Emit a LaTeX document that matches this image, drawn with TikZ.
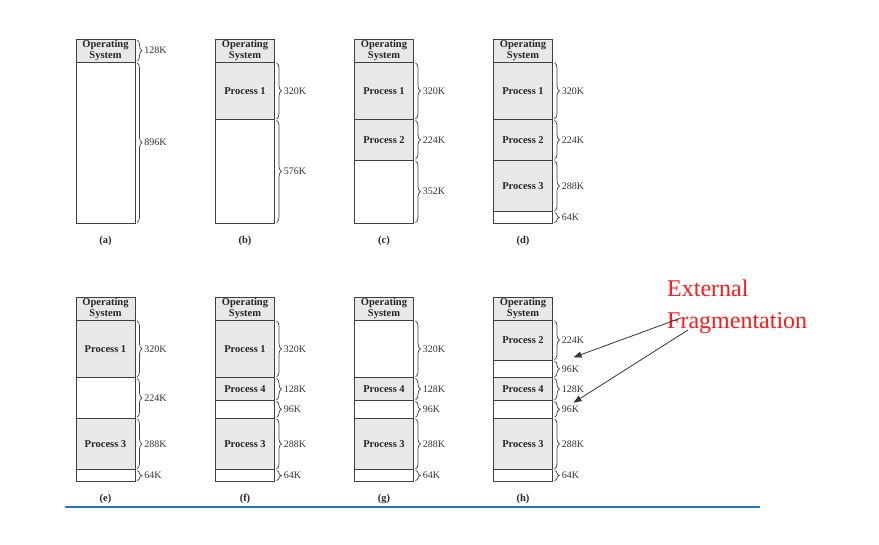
\documentclass[tikz,border=0pt]{standalone}
\usepackage{fontspec}
\setmainfont{Liberation Serif}
\usetikzlibrary{positioning,decorations.pathreplacing,arrows.meta}

\tikzset{
  seg/.style={draw=black!75, line width=0.9pt, minimum width=59pt, minimum height=#1*0.18pt,
    inner sep=0pt, outer sep=0pt, anchor=north, align=center, text=black!85,
    font=\bfseries\fontsize{10.5}{10.5}\selectfont},
  used/.style={seg=#1, fill=gray!18},
  free/.style={seg=#1, fill=white},
  sz/.style={decorate, decoration={brace, amplitude=5pt}, draw=black!75, line width=0.7pt},
  szlabel/.style={right=7pt, inner sep=0pt, text=black!80, font=\fontsize{10}{10}\selectfont},
  caption/.style={below=9pt of #1, font=\bfseries\fontsize{10.5}{11}\selectfont, text=black!85}
}
% brace on the right side of a segment
\newcommand\memsize[2]{\draw[sz] ([xshift=2pt,yshift=-0.8pt]#1.north east) -- ([xshift=2pt,yshift=0.8pt]#1.south east) node[midway,szlabel]{#2};}

\begin{document}
\begin{tikzpicture}[x=1pt,y=-1pt]
\useasboundingbox (0,0) rectangle (879,545);

% (a)
\node[used=128] (a0) at (105.5,39) {Operating\\System};
\node[free=896, below=0pt of a0] (a1) {};
\memsize{a0}{128K}
\memsize{a1}{896K}
\node[caption=a1] (ca) {(a)};

% (b)
\node[used=128] (b0) at (245,39) {Operating\\System};
\node[used=320, below=0pt of b0] (b1) {Process 1};
\node[free=576, below=0pt of b1] (b2) {};
\memsize{b1}{320K}
\memsize{b2}{576K}
\node[caption=b2] (cb) {(b)};

% (c)
\node[used=128] (c0) at (384,39) {Operating\\System};
\node[used=320, below=0pt of c0] (c1) {Process 1};
\node[used=224, below=0pt of c1] (c2) {Process 2};
\node[free=352, below=0pt of c2] (c3) {};
\memsize{c1}{320K}
\memsize{c2}{224K}
\memsize{c3}{352K}
\node[caption=c3] (cc) {(c)};

% (d)
\node[used=128] (d0) at (523,39) {Operating\\System};
\node[used=320, below=0pt of d0] (d1) {Process 1};
\node[used=224, below=0pt of d1] (d2) {Process 2};
\node[used=288, below=0pt of d2] (d3) {Process 3};
\node[free=64, below=0pt of d3] (d4) {};
\memsize{d1}{320K}
\memsize{d2}{224K}
\memsize{d3}{288K}
\memsize{d4}{64K}
\node[caption=d4] (cd) {(d)};

% (e)
\node[used=128] (e0) at (105.5,297) {Operating\\System};
\node[used=320, below=0pt of e0] (e1) {Process 1};
\node[free=224, below=0pt of e1] (e2) {};
\node[used=288, below=0pt of e2] (e3) {Process 3};
\node[free=64, below=0pt of e3] (e4) {};
\memsize{e1}{320K}
\memsize{e2}{224K}
\memsize{e3}{288K}
\memsize{e4}{64K}
\node[caption=e4] (ce) {(e)};

% (f)
\node[used=128] (f0) at (245,297) {Operating\\System};
\node[used=320, below=0pt of f0] (f1) {Process 1};
\node[used=128, below=0pt of f1] (f2) {Process 4};
\node[free=96, below=0pt of f2] (f3) {};
\node[used=288, below=0pt of f3] (f4) {Process 3};
\node[free=64, below=0pt of f4] (f5) {};
\memsize{f1}{320K}
\memsize{f2}{128K}
\memsize{f3}{96K}
\memsize{f4}{288K}
\memsize{f5}{64K}
\node[caption=f5] (cf) {(f)};

% (g)
\node[used=128] (g0) at (384,297) {Operating\\System};
\node[free=320, below=0pt of g0] (g1) {};
\node[used=128, below=0pt of g1] (g2) {Process 4};
\node[free=96, below=0pt of g2] (g3) {};
\node[used=288, below=0pt of g3] (g4) {Process 3};
\node[free=64, below=0pt of g4] (g5) {};
\memsize{g1}{320K}
\memsize{g2}{128K}
\memsize{g3}{96K}
\memsize{g4}{288K}
\memsize{g5}{64K}
\node[caption=g5] (cg) {(g)};

% (h)
\node[used=128] (h0) at (523,297) {Operating\\System};
\node[used=224, below=0pt of h0] (h1) {Process 2};
\node[free=96, below=0pt of h1] (h2) {};
\node[used=128, below=0pt of h2] (h3) {Process 4};
\node[free=96, below=0pt of h3] (h4) {};
\node[used=288, below=0pt of h4] (h5) {Process 3};
\node[free=64, below=0pt of h5] (h6) {};
\memsize{h1}{224K}
\memsize{h2}{96K}
\memsize{h3}{128K}
\memsize{h4}{96K}
\memsize{h5}{288K}
\memsize{h6}{64K}
\node[caption=h6] (ch) {(h)};

% fragmentation note
\node[anchor=north west, align=left, inner sep=0pt, text=red!90!white,
  font=\fontsize{24}{32}\selectfont] (frag) at (667,280) {External\\Fragmentation};
\coordinate (fr1) at (681,318);
\coordinate (fr2) at (688,330);
\draw[-{Triangle[length=8pt,width=6pt]}, line width=0.8pt, black!80] (fr1) -- ([xshift=21pt,yshift=3pt]h2.north east);
\draw[-{Triangle[length=8pt,width=6pt]}, line width=0.8pt, black!80] (fr2) -- ([xshift=21pt,yshift=-2pt]h4.north east);

% rule under the figure
\draw[line width=2pt, color={rgb,255:red,30;green,120;blue,200}] (65,507) -- (760,507);
\end{tikzpicture}
\end{document}
